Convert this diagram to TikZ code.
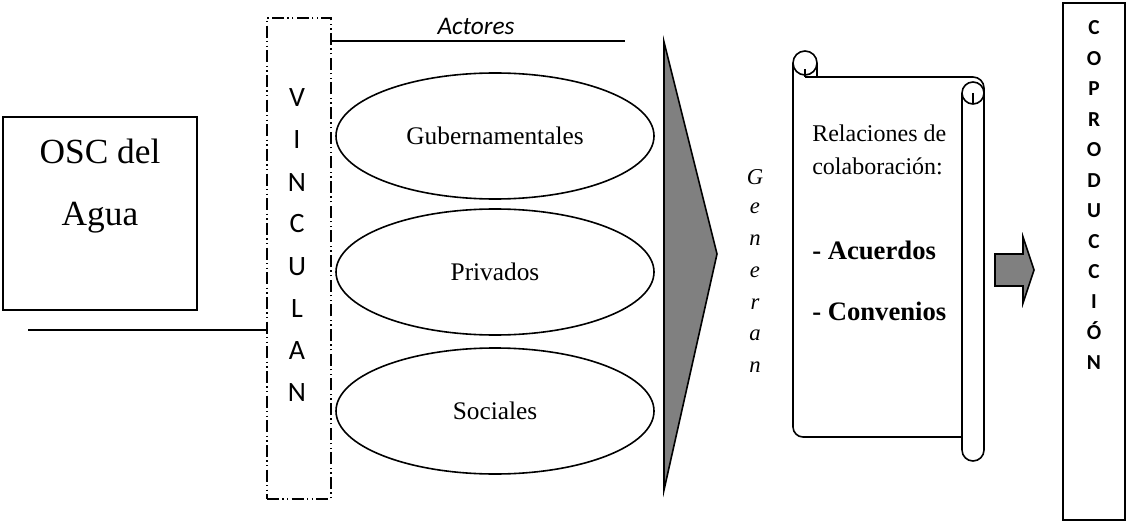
\documentclass[tikz,border=0pt]{standalone}
\usepackage{fontspec}
\setmainfont{Liberation Serif}
\newfontfamily\calibri{Carlito}
\usetikzlibrary{shapes.geometric}
\definecolor{ArrowGray}{HTML}{808080}

\begin{document}
\begin{tikzpicture}[x=0.75pt,y=-0.75pt,
  frame/.style={draw=black,line width=1.6pt,inner sep=0pt},
  actor/.style={ellipse,draw=black,line width=1.2pt,minimum width=238.5pt,
                minimum height=94.5pt,inner sep=0pt,font=\fontsize{19}{22}\selectfont},
  vletter/.style={inner sep=0pt,text height=13.5pt,text depth=0pt,
                  font=\calibri\fontsize{21}{24}\selectfont},
  cletter/.style={inner sep=0pt,text height=10.3pt,text depth=0pt,
                  font=\calibri\bfseries\fontsize{16}{19}\selectfont},
  gletter/.style={inner sep=0pt,font=\itshape\fontsize{17}{20}\selectfont},
  linkdash/.style={draw=black,line width=1.3pt,inner sep=0pt,
                   dash pattern=on 9pt off 2.5pt on 1pt off 2.5pt on 1pt off 2.5pt},
  rule/.style={draw=black,line width=1.3pt},
  scroll/.style={draw=black,line width=1.2pt},
  grayshape/.style={fill=ArrowGray,draw=black,line width=1.2pt,line join=miter}
]
\useasboundingbox (0,0) rectangle (1126,527);

% organisation
\node[frame,minimum width=145.5pt,minimum height=144.75pt] (osc) at (100,213.5) {};
\node[anchor=north,align=center,inner sep=0pt,font=\fontsize{26.5}{46}\selectfont]
  (osctext) at (100,139) {OSC del\\Agua};

% vinculan column
\node[linkdash,minimum width=48pt,minimum height=360.75pt] (vinc) at (299,258.5) {};
\foreach \ch [count=\i from 0] in {V,I,N,C,U,L,A,N}
  \node[vletter] (v\i) at (297,{98+42*\i}) {\ch};
\coordinate (lstart) at (28,330);
\draw[rule] (lstart) -- (lstart -| vinc.west);

% actors
\coordinate (aend) at (625,41);
\draw[rule] (vinc.east |- aend) -- (aend);
\node[inner sep=0pt,font=\calibri\itshape\fontsize{19}{22}\selectfont] (actores) at (476,26) {Actores};
\node[actor] (gub) at (495,136) {Gubernamentales};
\node[actor] (priv) at (495,272) {Privados};
\node[actor] (soc) at (495,411) {Sociales};

% generan
\coordinate (gtop) at (664,42);
\coordinate (gtip) at (717,254);
\coordinate (gbot) at (664,490);
\draw[grayshape] (gtop) -- (gtip) -- (gbot) -- cycle;
\foreach \ch [count=\i from 0] in {G,e,n,e,r,a,n}
  \node[gletter] (g\i) at (755,{177+31.7*\i}) {\ch};

% scroll
\draw[scroll] (793,63) -- (793,427) arc[start angle=180,end angle=90,radius=10] -- (962,437);
\draw[scroll] (805,77) -- (973,77) arc[start angle=-90,end angle=0,radius=11]
  -- (984,450) arc[start angle=0,end angle=180,radius=11] -- (962,93);
\draw[scroll] (805,63) circle[radius=12];
\draw[scroll] (817,63) -- (817,77);
\draw[scroll] (805,77) -- (805,69);
\draw[scroll] (973,93) circle[radius=11];
\draw[scroll] (973,93) -- (973,104);
\node[anchor=north west,align=left,inner sep=0pt,font=\fontsize{18}{24.75}\selectfont]
  (rel) at (812,125) {Relaciones de\\colaboración:};
\node[anchor=base west,inner sep=0pt,font=\bfseries\fontsize{20}{24}\selectfont]
  (acu) at (812,259) {- Acuerdos};
\node[anchor=base west,inner sep=0pt,font=\bfseries\fontsize{20}{24}\selectfont]
  (conv) at (812,320) {- Convenios};

% small arrow
\draw[grayshape] (995,254) -- (1023,254) -- (1023,237) -- (1034,270)
  -- (1023,303) -- (1023,286) -- (995,286) -- cycle;

% coproduccion
\node[frame,minimum width=46.5pt,minimum height=387.75pt] (copro) at (1094,261.5) {};
\foreach \ch [count=\i from 0] in {C,O,P,R,O,D,U,C,C,I,Ó,N}
  \node[cletter] (c\i) at (1094,{28+30.45*\i}) {\ch};
\end{tikzpicture}
\end{document}
